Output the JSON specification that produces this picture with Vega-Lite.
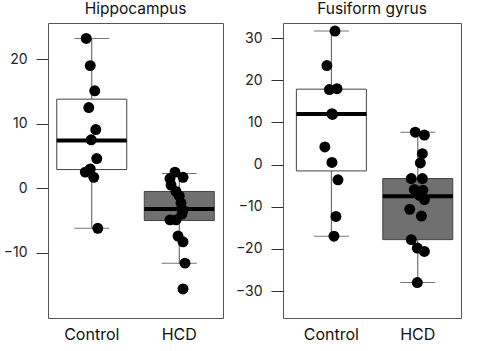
{
  "$schema": "https://vega.github.io/schema/vega-lite/v6.json",
  "padding": {"left": 2, "top": 1, "right": 0, "bottom": 0},
  "background": "white",
  "spacing": 10,
  "config": {
    "font": "Inter",
    "view": {"stroke": "#555", "strokeWidth": 1},
    "title": {"fontSize": 15.5, "fontWeight": "normal", "color": "#111", "offset": 5.5},
    "axisY": {"domain": false, "grid": false, "ticks": true, "tickSize": 12, "tickColor": "#333", "labelFontSize": 14, "labelColor": "#222", "labelPadding": 9, "title": null},
    "axisX": {"domain": false, "grid": false, "ticks": false, "labelFontSize": 16, "labelColor": "#111", "labelPadding": 8, "labelAngle": 0, "title": null}
  },
  "datasets": {
    "summary": [
      {"region": "Hippocampus", "group": "Control", "lower": -6.2, "q1": 2.9, "median": 7.4, "q3": 13.8, "upper": 23.2},
      {"region": "Hippocampus", "group": "HCD", "lower": -11.6, "q1": -5.0, "median": -3.2, "q3": -0.5, "upper": 2.3},
      {"region": "Fusiform gyrus", "group": "Control", "lower": -17.0, "q1": -1.5, "median": 12.0, "q3": 17.9, "upper": 31.7},
      {"region": "Fusiform gyrus", "group": "HCD", "lower": -28.0, "q1": -17.8, "median": -7.5, "q3": -3.3, "upper": 7.7}
    ],
    "points": [
      {"region": "Hippocampus", "group": "Control", "value": 23.2, "jitter": -0.063},
      {"region": "Hippocampus", "group": "Control", "value": 19.0, "jitter": -0.017},
      {"region": "Hippocampus", "group": "Control", "value": 15.1, "jitter": 0.034},
      {"region": "Hippocampus", "group": "Control", "value": 12.5, "jitter": -0.034},
      {"region": "Hippocampus", "group": "Control", "value": 9.1, "jitter": 0.046},
      {"region": "Hippocampus", "group": "Control", "value": 7.5, "jitter": -0.006},
      {"region": "Hippocampus", "group": "Control", "value": 4.6, "jitter": 0.057},
      {"region": "Hippocampus", "group": "Control", "value": 3.0, "jitter": -0.017},
      {"region": "Hippocampus", "group": "Control", "value": 2.5, "jitter": -0.074},
      {"region": "Hippocampus", "group": "Control", "value": 1.7, "jitter": 0.023},
      {"region": "Hippocampus", "group": "Control", "value": -6.2, "jitter": 0.069},
      {"region": "Hippocampus", "group": "HCD", "value": 2.5, "jitter": -0.049},
      {"region": "Hippocampus", "group": "HCD", "value": 1.7, "jitter": 0.043},
      {"region": "Hippocampus", "group": "HCD", "value": 1.5, "jitter": -0.106},
      {"region": "Hippocampus", "group": "HCD", "value": 0.5, "jitter": -0.094},
      {"region": "Hippocampus", "group": "HCD", "value": -0.5, "jitter": -0.037},
      {"region": "Hippocampus", "group": "HCD", "value": -1.2, "jitter": 0.0},
      {"region": "Hippocampus", "group": "HCD", "value": -2.3, "jitter": 0.02},
      {"region": "Hippocampus", "group": "HCD", "value": -3.4, "jitter": 0.043},
      {"region": "Hippocampus", "group": "HCD", "value": -4.0, "jitter": 0.031},
      {"region": "Hippocampus", "group": "HCD", "value": -4.9, "jitter": -0.106},
      {"region": "Hippocampus", "group": "HCD", "value": -4.9, "jitter": -0.037},
      {"region": "Hippocampus", "group": "HCD", "value": -7.4, "jitter": -0.014},
      {"region": "Hippocampus", "group": "HCD", "value": -8.3, "jitter": 0.043},
      {"region": "Hippocampus", "group": "HCD", "value": -11.6, "jitter": 0.066},
      {"region": "Hippocampus", "group": "HCD", "value": -15.6, "jitter": 0.043},
      {"region": "Fusiform gyrus", "group": "Control", "value": 31.7, "jitter": 0.035},
      {"region": "Fusiform gyrus", "group": "Control", "value": 23.5, "jitter": -0.058},
      {"region": "Fusiform gyrus", "group": "Control", "value": 18.0, "jitter": 0.058},
      {"region": "Fusiform gyrus", "group": "Control", "value": 17.8, "jitter": -0.029},
      {"region": "Fusiform gyrus", "group": "Control", "value": 12.1, "jitter": 0.0},
      {"region": "Fusiform gyrus", "group": "Control", "value": 11.9, "jitter": 0.006},
      {"region": "Fusiform gyrus", "group": "Control", "value": 4.2, "jitter": -0.081},
      {"region": "Fusiform gyrus", "group": "Control", "value": 0.5, "jitter": 0.0},
      {"region": "Fusiform gyrus", "group": "Control", "value": -3.6, "jitter": 0.069},
      {"region": "Fusiform gyrus", "group": "Control", "value": -12.3, "jitter": 0.046},
      {"region": "Fusiform gyrus", "group": "Control", "value": -17.0, "jitter": 0.023},
      {"region": "Fusiform gyrus", "group": "HCD", "value": 7.7, "jitter": -0.035},
      {"region": "Fusiform gyrus", "group": "HCD", "value": 7.0, "jitter": 0.069},
      {"region": "Fusiform gyrus", "group": "HCD", "value": 2.6, "jitter": 0.046},
      {"region": "Fusiform gyrus", "group": "HCD", "value": 0.4, "jitter": 0.023},
      {"region": "Fusiform gyrus", "group": "HCD", "value": -3.3, "jitter": -0.081},
      {"region": "Fusiform gyrus", "group": "HCD", "value": -3.3, "jitter": 0.046},
      {"region": "Fusiform gyrus", "group": "HCD", "value": -5.9, "jitter": -0.046},
      {"region": "Fusiform gyrus", "group": "HCD", "value": -6.1, "jitter": 0.052},
      {"region": "Fusiform gyrus", "group": "HCD", "value": -7.3, "jitter": 0.012},
      {"region": "Fusiform gyrus", "group": "HCD", "value": -8.3, "jitter": 0.069},
      {"region": "Fusiform gyrus", "group": "HCD", "value": -10.6, "jitter": -0.098},
      {"region": "Fusiform gyrus", "group": "HCD", "value": -12.2, "jitter": 0.035},
      {"region": "Fusiform gyrus", "group": "HCD", "value": -17.8, "jitter": -0.081},
      {"region": "Fusiform gyrus", "group": "HCD", "value": -19.8, "jitter": -0.012},
      {"region": "Fusiform gyrus", "group": "HCD", "value": -20.6, "jitter": 0.069},
      {"region": "Fusiform gyrus", "group": "HCD", "value": -28.0, "jitter": -0.012}
    ]
  },
  "hconcat": [
    {
      "title": "Hippocampus",
      "width": 175,
      "height": 295,
      "encoding": {
        "x": {"field": "group", "type": "nominal", "scale": {"domain": ["Control", "HCD"], "paddingInner": 0, "paddingOuter": 0}}
      },
      "layer": [
        {
          "data": {"name": "summary"},
          "transform": [{"filter": "datum.region === 'Hippocampus'"}],
          "mark": {"type": "rule", "color": "#555", "strokeWidth": 1},
          "encoding": {
            "y": {"field": "lower", "type": "quantitative", "scale": {"domain": [-20.1, 25.6], "nice": false, "zero": false}, "axis": {"values": [-10, 0, 10, 20]}},
            "y2": {"field": "upper"}
          }
        },
        {
          "data": {"name": "summary"},
          "transform": [{"filter": "datum.region === 'Hippocampus'"}],
          "mark": {"type": "tick", "color": "#777", "size": 35, "thickness": 1, "opacity": 1},
          "encoding": {"y": {"field": "lower", "type": "quantitative"}}
        },
        {
          "data": {"name": "summary"},
          "transform": [{"filter": "datum.region === 'Hippocampus'"}],
          "mark": {"type": "tick", "color": "#777", "size": 35, "thickness": 1, "opacity": 1},
          "encoding": {"y": {"field": "upper", "type": "quantitative"}}
        },
        {
          "data": {"name": "summary"},
          "transform": [{"filter": "datum.region === 'Hippocampus'"}],
          "mark": {"type": "bar", "width": 70, "stroke": "#444", "strokeWidth": 1},
          "encoding": {
            "y": {"field": "q1", "type": "quantitative"},
            "y2": {"field": "q3"},
            "color": {"field": "group", "type": "nominal", "scale": {"domain": ["Control", "HCD"], "range": ["#ffffff", "#707070"]}, "legend": null}
          }
        },
        {
          "data": {"name": "summary"},
          "transform": [{"filter": "datum.region === 'Hippocampus'"}],
          "mark": {"type": "tick", "color": "#000", "size": 70, "thickness": 4, "opacity": 1},
          "encoding": {"y": {"field": "median", "type": "quantitative"}}
        },
        {
          "data": {"name": "points"},
          "transform": [{"filter": "datum.region === 'Hippocampus'"}],
          "mark": {"type": "circle", "color": "#000", "size": 120, "opacity": 1},
          "encoding": {
            "y": {"field": "value", "type": "quantitative"},
            "xOffset": {"field": "jitter", "type": "quantitative", "scale": {"domain": [-0.5, 0.5]}}
          }
        }
      ]
    },
    {
      "title": "Fusiform gyrus",
      "width": 178,
      "height": 295,
      "encoding": {
        "x": {"field": "group", "type": "nominal", "scale": {"domain": ["Control", "HCD"], "paddingInner": 0, "paddingOuter": 0.03, "align": 1}}
      },
      "layer": [
        {
          "data": {"name": "summary"},
          "transform": [{"filter": "datum.region === 'Fusiform gyrus'"}],
          "mark": {"type": "rule", "color": "#555", "strokeWidth": 1},
          "encoding": {
            "y": {"field": "lower", "type": "quantitative", "scale": {"domain": [-36.4, 33.6], "nice": false, "zero": false}, "axis": {"values": [-30, -20, -10, 0, 10, 20, 30]}},
            "y2": {"field": "upper"}
          }
        },
        {
          "data": {"name": "summary"},
          "transform": [{"filter": "datum.region === 'Fusiform gyrus'"}],
          "mark": {"type": "tick", "color": "#777", "size": 35, "thickness": 1, "opacity": 1},
          "encoding": {"y": {"field": "lower", "type": "quantitative"}}
        },
        {
          "data": {"name": "summary"},
          "transform": [{"filter": "datum.region === 'Fusiform gyrus'"}],
          "mark": {"type": "tick", "color": "#777", "size": 35, "thickness": 1, "opacity": 1},
          "encoding": {"y": {"field": "upper", "type": "quantitative"}}
        },
        {
          "data": {"name": "summary"},
          "transform": [{"filter": "datum.region === 'Fusiform gyrus'"}],
          "mark": {"type": "bar", "width": 70, "stroke": "#444", "strokeWidth": 1},
          "encoding": {
            "y": {"field": "q1", "type": "quantitative"},
            "y2": {"field": "q3"},
            "color": {"field": "group", "type": "nominal", "scale": {"domain": ["Control", "HCD"], "range": ["#ffffff", "#707070"]}, "legend": null}
          }
        },
        {
          "data": {"name": "summary"},
          "transform": [{"filter": "datum.region === 'Fusiform gyrus'"}],
          "mark": {"type": "tick", "color": "#000", "size": 70, "thickness": 4, "opacity": 1},
          "encoding": {"y": {"field": "median", "type": "quantitative"}}
        },
        {
          "data": {"name": "points"},
          "transform": [{"filter": "datum.region === 'Fusiform gyrus'"}],
          "mark": {"type": "circle", "color": "#000", "size": 120, "opacity": 1},
          "encoding": {
            "y": {"field": "value", "type": "quantitative"},
            "xOffset": {"field": "jitter", "type": "quantitative", "scale": {"domain": [-0.5, 0.5]}}
          }
        }
      ]
    }
  ]
}
